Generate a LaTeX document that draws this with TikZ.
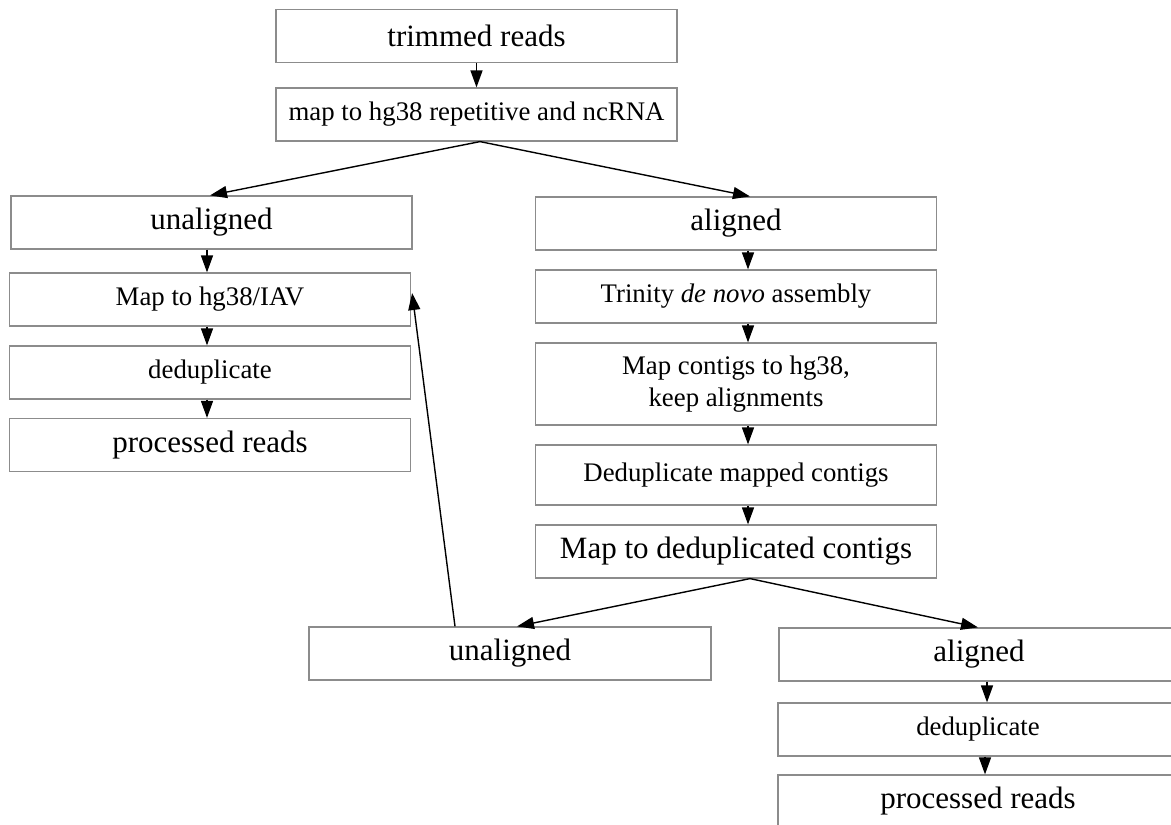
\documentclass[tikz,border=0pt]{standalone}
\usepackage{fontspec}
\setmainfont{Liberation Serif}
\usetikzlibrary{arrows.meta,calc}
\tikzset{
  box/.style={draw=black!45, line width=0.6pt, rectangle, inner sep=0pt,
    minimum width=200.5pt, minimum height=26.5pt, align=center},
  big/.style={font=\fontsize{15.5}{18}\selectfont},
  small/.style={font=\fontsize{13.4}{16}\selectfont},
  arr/.style={draw=black, line width=0.7pt, -{Triangle[length=8.5pt,width=6pt]}}
}
\begin{document}
\begin{tikzpicture}[x=0.5pt,y=-0.5pt]
\useasboundingbox (0,0) rectangle (1171,824);
\clip (0,0) rectangle (1171,824);
% top
\node[box,big] (tr) at (476.5,36) {trimmed reads};
\node[box,small] (mp) at (476.5,114.5) {map to hg38 repetitive and ncRNA};
% left column
\node[box,big] (un1) at (211.5,222.5) {unaligned};
\node[box,small] (iav) at (210,299.5) {Map to hg38/IAV};
\node[box,small] (dd1) at (210,372.5) {deduplicate};
\node[box,big] (pr1) at (210,445) {processed reads};
% right column
\node[box,big] (al1) at (736,223.5) {aligned};
\node[box,small] (tri) at (736,296.5) {Trinity \textit{de novo} assembly};
\node[box,small,minimum height=41pt] (mc) at (736,384) {Map contigs to hg38,\\keep alignments};
\node[box,small,minimum height=30pt] (dm) at (736,475) {Deduplicate mapped contigs};
\node[box,big] (md) at (736,551.5) {Map to deduplicated contigs};
% bottom
\node[box,big,minimum width=201pt] (un2) at (510,653.5) {unaligned};
\node[box,big,minimum width=200pt] (al2) at (979,654.5) {aligned};
\node[box,small,minimum width=200pt] (dd2) at (978,729.5) {deduplicate};
\node[box,big,minimum width=200pt] (pr2) at (978,801.5) {processed reads};
% connectors
\draw[arr] (tr.south) -- (mp.north);
\draw[arr] ($(mp.south)+(3.5,0)$) -- ($(un1.north)+(-1.5,0)$);
\draw[arr] ($(mp.south)+(3.5,0)$) -- ($(al1.north)+(14,0)$);
\draw[arr] ($(un1.south)+(-4.5,0)$) -- ($(iav.north)+(-3,0)$);
\draw[arr] ($(iav.south)+(-3,0)$) -- ($(dd1.north)+(-3,0)$);
\draw[arr] ($(dd1.south)+(-3,0)$) -- ($(pr1.north)+(-3,0)$);
\draw[arr] ($(al1.south)+(12,0)$) -- ($(tri.north)+(12,0)$);
\draw[arr] ($(tri.south)+(12,0)$) -- ($(mc.north)+(12,0)$);
\draw[arr] ($(mc.south)+(12,0)$) -- ($(dm.north)+(12,0)$);
\draw[arr] ($(dm.south)+(12,0)$) -- ($(md.north)+(12,0)$);
\draw[arr] ($(md.south)+(14,0)$) -- ($(un2.north)+(7,0)$);
\draw[arr] ($(md.south)+(14,0)$) -- ($(al2.north)+(-1,0)$);
\draw[arr] ($(al2.south)+(8,0)$) -- ($(dd2.north)+(9,0)$);
\draw[arr] ($(dd2.south)+(7,0)$) -- ($(pr2.north)+(7,0)$);
\draw[arr] ($(un2.north)+(-55,0)$) -- ($(iav.east)+(1,-6.5)$);
\end{tikzpicture}
\end{document}
